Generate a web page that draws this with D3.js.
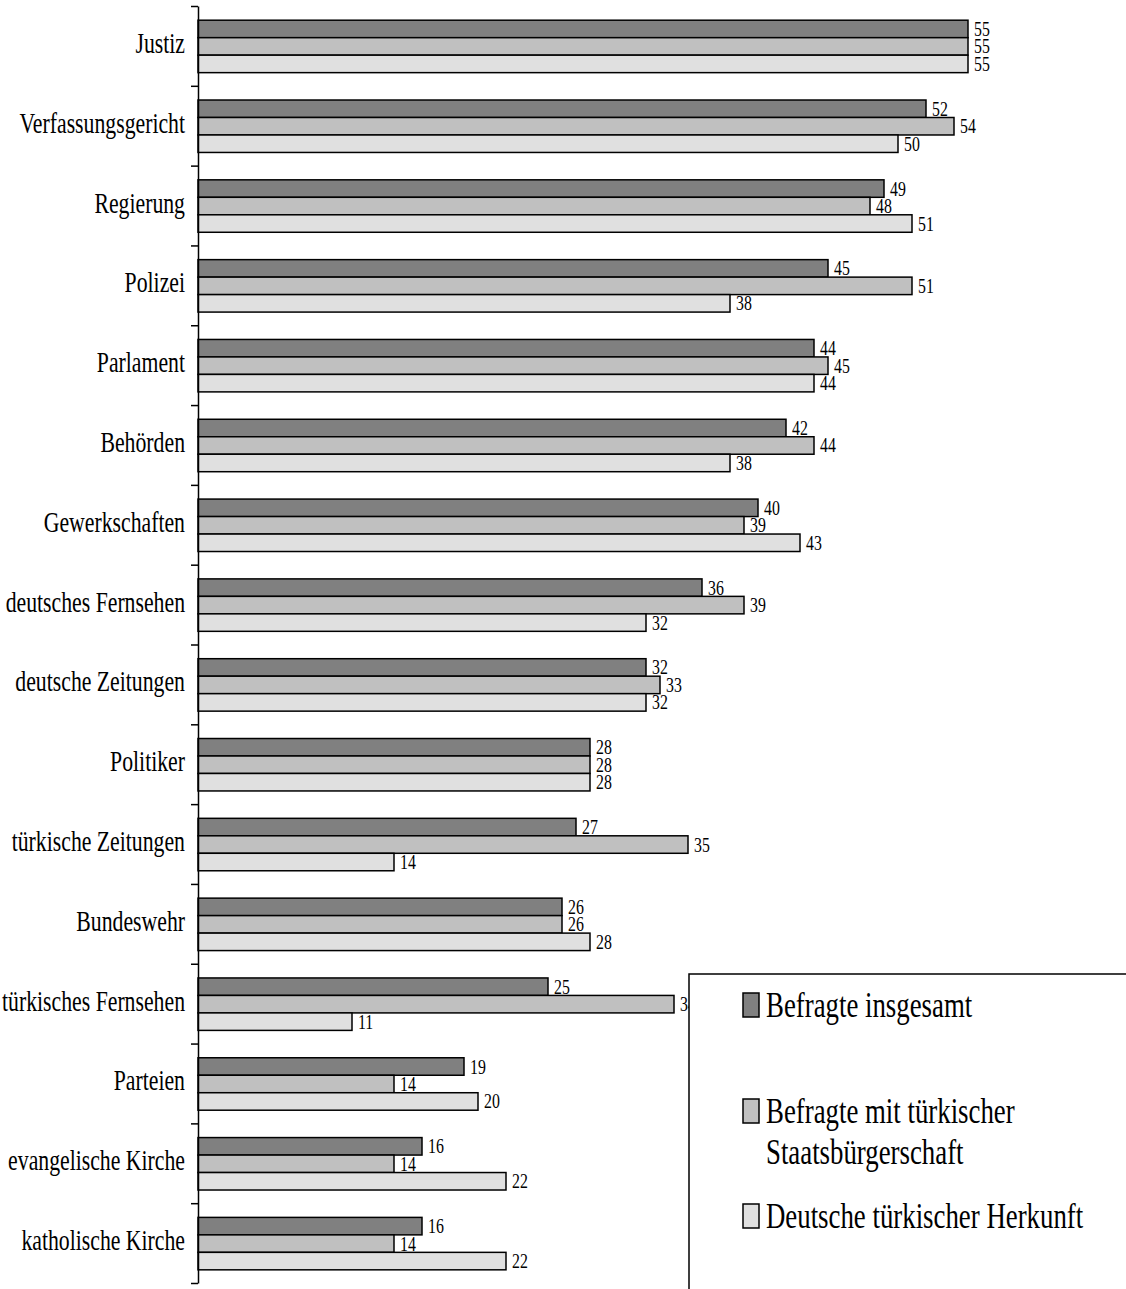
<!DOCTYPE html>
<html>
<head>
<meta charset="utf-8">
<script src="https://cdn.jsdelivr.net/npm/d3@7"></script>
<style>
  body { margin: 0; background: #fff; }
  svg { display: block; }
  text { font-family: "Liberation Serif", "Times New Roman", serif; fill: #000; }
</style>
</head>
<body>
<svg id="chart" width="1126" height="1289"></svg>
<script>
const categories = ["Justiz", "Verfassungsgericht", "Regierung", "Polizei", "Parlament", "Behörden",
  "Gewerkschaften", "deutsches Fernsehen", "deutsche Zeitungen", "Politiker", "türkische Zeitungen",
  "Bundeswehr", "türkisches Fernsehen", "Parteien", "evangelische Kirche", "katholische Kirche"];
const seriesNames = ["Befragte insgesamt", "Befragte mit türkischer Staatsbürgerschaft", "Deutsche türkischer Herkunft"];
const insgesamt = [55, 52, 49, 45, 44, 42, 40, 36, 32, 28, 27, 26, 25, 19, 16, 16];
const tuerkStaat = [55, 54, 48, 51, 45, 44, 39, 39, 33, 28, 35, 26, 34, 14, 14, 14];
const deutscheTuerk = [55, 50, 51, 38, 44, 38, 43, 32, 32, 28, 14, 28, 11, 20, 22, 22];
const legendLines = [["Befragte insgesamt"], ["Befragte mit türkischer", "Staatsbürgerschaft"], ["Deutsche türkischer Herkunft"]];

const seriesValues = [insgesamt, tuerkStaat, deutscheTuerk];
const colors = ["#808080", "#c0c0c0", "#e0e0e0"];

const svg = d3.select("#chart");

const x = d3.scaleLinear().domain([0, 55]).range([198, 968]);
const y = d3.scaleBand().domain(categories).range([6, 1283]).paddingInner(0).paddingOuter(0);
const bw = y.bandwidth();
const y1 = d3.scaleBand().domain(d3.range(seriesNames.length)).range([bw * 0.178, bw * 0.835]);

const rows = categories.map((c, i) => ({
  cat: c,
  vals: seriesValues.map((s, k) => ({ k, v: s[i] }))
}));

const groups = svg.append("g").selectAll("g").data(rows).join("g")
  .attr("transform", d => `translate(0,${y(d.cat)})`);

groups.selectAll("rect").data(d => d.vals).join("rect")
  .attr("x", x(0))
  .attr("y", d => y1(d.k))
  .attr("width", d => x(d.v) - x(0))
  .attr("height", y1.bandwidth())
  .attr("fill", d => colors[d.k])
  .attr("stroke", "#000")
  .attr("stroke-width", 1.5);

groups.selectAll("text.val").data(d => d.vals).join("text")
  .attr("class", "val")
  .attr("transform", d => `translate(${x(d.v) + 6},${y1(d.k) + y1.bandwidth() / 2 + 7}) scale(0.72,1)`)
  .attr("font-size", 22)
  .text(d => d.v);

// category labels
svg.append("g").selectAll("text").data(categories).join("text")
  .attr("transform", d => `translate(185,${y(d) + bw / 2 + 7}) scale(0.75,1)`)
  .attr("text-anchor", "end")
  .attr("font-size", 29)
  .text(d => d);

// axis with ticks at band boundaries
const yLin = d3.scaleLinear().domain([0, categories.length]).range([6, 1283]);
const axis = svg.append("g")
  .attr("transform", `translate(${x(0)},0)`)
  .call(d3.axisLeft(yLin).ticks(categories.length).tickFormat("").tickSize(7).tickSizeOuter(0));
axis.selectAll("path, line").attr("stroke", "#000").attr("stroke-width", 1.5);

// legend
const lg = svg.append("g");
lg.append("rect").attr("x", 689).attr("y", 974).attr("width", 500).attr("height", 400)
  .attr("fill", "#fff").attr("stroke", "#000").attr("stroke-width", 1.5);
const legendBase = [1017, 1123, 1228];
legendLines.forEach((lines, k) => {
  lg.append("rect").attr("x", 743).attr("y", legendBase[k] - 24).attr("width", 16).attr("height", 24)
    .attr("fill", colors[k]).attr("stroke", "#000").attr("stroke-width", 1.5);
  lines.forEach((t, j) => {
    lg.append("text")
      .attr("transform", `translate(766,${legendBase[k] + j * 41}) scale(0.745,1)`)
      .attr("font-size", 36)
      .text(t);
  });
});
</script>
</body>
</html>
